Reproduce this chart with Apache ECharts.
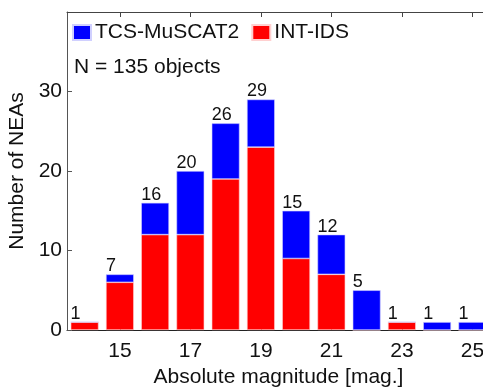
<!DOCTYPE html>
<html>
<head>
<meta charset="utf-8">
<script src="https://cdn.jsdelivr.net/npm/echarts@6/dist/echarts.min.js"></script>
<style>html,body{margin:0;padding:0;background:#fff;}#c{width:483px;height:389px;}</style>
</head>
<body>
<div id="c"></div>
<script>
const categories = ['14','15','16','17','18','19','20','21','22','23','24','25'];
const intIds = [1, 6, 12, 12, 19, 23, 9, 7, 0, 1, 0, 0];
const tcsMuscat2 = [0, 1, 4, 8, 7, 6, 6, 5, 5, 0, 1, 1];
const totals = [1, 7, 16, 20, 26, 29, 15, 12, 5, 1, 1, 1];
const yTicks = [0, 10, 20, 30];

const FONT = '"Liberation Sans", Arial, Helvetica, sans-serif';
const chart = echarts.init(document.getElementById('c'), null, {renderer: 'canvas'});
const oddIdx = (i) => i % 2 === 1;
chart.setOption({
  animation: false,
  textStyle: {fontFamily: FONT},
  grid: {left: 67, top: 12, width: 423, height: 318, show: false, containLabel: false, outerBoundsMode: 'none'},
  legend: {
    left: 72, top: 22, padding: 0, itemWidth: 18, itemHeight: 15, itemGap: 12,
    icon: 'rect',
    data: ['TCS-MuSCAT2', 'INT-IDS'],
    textStyle: {fontSize: 21, color: '#111', fontFamily: FONT, padding: [0, 0, 0, -1]}
  },
  graphic: [{
    type: 'text', left: 74, top: 57,
    style: {text: 'N = 135 objects', fontSize: 21, fill: '#111', fontFamily: FONT}
  }],
  xAxis: [{
    type: 'category', data: categories, position: 'bottom',
    name: 'Absolute magnitude [mag.]', nameLocation: 'middle', nameGap: 37,
    nameTextStyle: {fontSize: 21, color: '#111', fontFamily: FONT},
    axisLine: {lineStyle: {color: '#222', width: 1}},
    axisTick: {show: true, inside: true, length: 5, alignWithLabel: true, interval: oddIdx, lineStyle: {color: '#222'}},
    axisLabel: {interval: oddIdx, fontSize: 21, color: '#111', margin: 11, fontFamily: FONT},
    splitLine: {show: false}
  }, {
    type: 'category', data: categories, position: 'top',
    axisLine: {show: true, lineStyle: {color: '#444', width: 1}},
    axisTick: {show: true, inside: true, length: 5, alignWithLabel: true, interval: oddIdx, lineStyle: {color: '#444'}},
    axisLabel: {show: false}
  }],
  yAxis: [{
    type: 'value', min: 0, max: 40, interval: 10,
    name: 'Number of NEAs', nameLocation: 'middle', nameGap: 38,
    nameTextStyle: {fontSize: 21, color: '#111', fontFamily: FONT},
    axisLine: {show: true, lineStyle: {color: '#555', width: 1}},
    axisTick: {show: true, inside: true, length: 5, lineStyle: {color: '#555'}},
    axisLabel: {fontSize: 21, color: '#111', margin: 5, showMaxLabel: false, fontFamily: FONT,
      formatter: (v) => yTicks.indexOf(v) >= 0 ? String(v) : ''},
    splitLine: {show: false}
  }],
  series: [{
    name: 'INT-IDS', type: 'bar', stack: 'n', data: intIds, barWidth: '79%',
    itemStyle: {color: '#ff0000', borderColor: '#ffd0d0', borderWidth: 0.6}
  }, {
    name: 'TCS-MuSCAT2', type: 'bar', stack: 'n', data: tcsMuscat2, barWidth: '79%',
    itemStyle: {color: '#0000ff', borderColor: '#d0d0ff', borderWidth: 0.6},
    label: {
      show: true, position: [0, 1], align: 'left', verticalAlign: 'bottom',
      fontSize: 18, color: '#111', fontFamily: FONT,
      formatter: (p) => String(totals[p.dataIndex])
    }
  }]
});
</script>
</body>
</html>
